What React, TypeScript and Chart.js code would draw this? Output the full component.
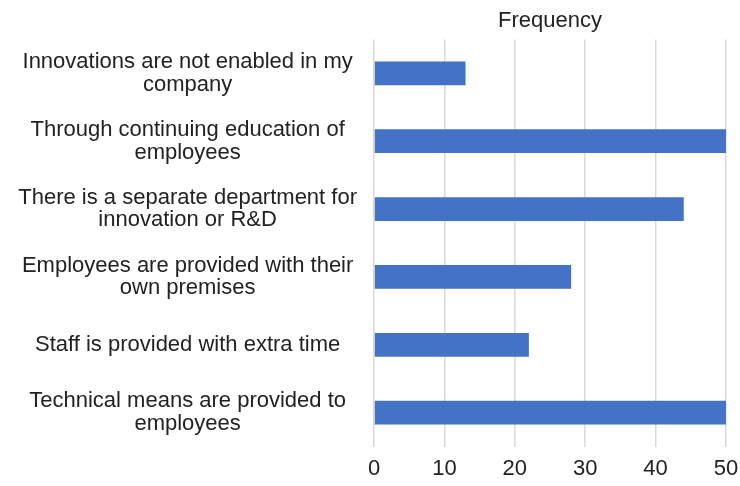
import React, { useEffect, useRef } from "react";
import { Chart, registerables } from "chart.js";

Chart.register(...registerables);

const categories: string[][] = [
  ["Innovations are not enabled in my", "company"],
  ["Through continuing education of", "employees"],
  ["There is a separate department for", "innovation or R&D"],
  ["Employees are provided with their", "own premises"],
  ["Staff is provided with extra time"],
  ["Technical means are provided to", "employees"],
];
const frequency: number[] = [13, 50, 44, 28, 22, 50];
const xTicks: number[] = [0, 10, 20, 30, 40, 50];
const titleText = "Frequency";

const FONT = "'Liberation Sans', Arial, sans-serif";

export default function App() {
  const ref = useRef<HTMLCanvasElement | null>(null);
  useEffect(() => {
    if (!ref.current) return;
    const chart = new Chart(ref.current, {
      type: "bar",
      data: {
        labels: categories,
        datasets: [
          {
            data: frequency,
            backgroundColor: "#4472c4",
            borderWidth: 0,
            categoryPercentage: 1,
            barPercentage: 0.35,
          },
        ],
      },
      options: {
        indexAxis: "y",
        animation: false,
        responsive: false,
        maintainAspectRatio: false,
        layout: { padding: { left: 0, right: 14, top: 0, bottom: 0 } },
        plugins: {
          legend: { display: false },
          tooltip: { enabled: false },
          title: { display: false },
        },
        scales: {
          x: {
            position: "bottom",
            min: 0,
            max: 50,
            afterBuildTicks: (s: any) => {
              s.ticks = xTicks.map((v) => ({ value: v }));
            },
            afterFit: (s: any) => {
              s.height = 34;
              s.paddingLeft = 0;
              s.paddingRight = 0;
            },
            grid: { color: "#d9d9d9", lineWidth: 1.5, drawTicks: false },
            border: { display: false },
            ticks: {
              color: "#222",
              padding: 11,
              font: { family: FONT, size: 22, lineHeight: 1.0 },
            },
          },
          x2: {
            position: "top",
            axis: "x",
            min: 0,
            max: 50,
            grid: { display: false, drawTicks: false },
            border: { display: false },
            ticks: { display: false },
            afterFit: (s: any) => {
              s.height = 39;
              s.paddingLeft = 0;
              s.paddingRight = 0;
            },
            title: {
              display: true,
              text: titleText,
              color: "#222",
              font: { family: FONT, size: 22, lineHeight: 1.2 },
              padding: { top: 7, bottom: 0 },
            },
          },
          y: {
            grid: { display: false, drawTicks: false },
            border: { display: false },
            afterFit: (s: any) => {
              s.width = 374;
            },
            ticks: {
              color: "#222",
              padding: 17,
              crossAlign: "center",
              font: { family: FONT, size: 22, lineHeight: 1.02 },
            },
          },
        },
      },
    });
    return () => chart.destroy();
  }, []);
  return (
    <div style={{ position: "fixed", left: 0, top: 0, width: 740, height: 486, background: "#fff" }}>
      <canvas ref={ref} width={740} height={486} style={{ width: 740, height: 486 }} />
    </div>
  );
}
